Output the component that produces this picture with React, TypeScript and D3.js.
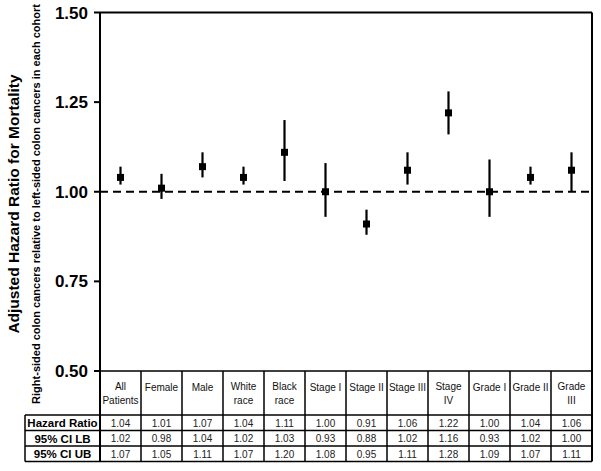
import React from 'react';
import * as d3 from 'd3';

// cohort labels (header row of the table)
const cohorts = ['All Patients', 'Female', 'Male', 'White race', 'Black race', 'Stage I', 'Stage II', 'Stage III', 'Stage IV', 'Grade I', 'Grade II', 'Grade III'];
const headerLines = [['All', 'Patients'], ['Female'], ['Male'], ['White', 'race'], ['Black', 'race'], ['Stage I'], ['Stage II'], ['Stage III'], ['Stage', 'IV'], ['Grade I'], ['Grade II'], ['Grade', 'III']];
const hazardRatio = [1.04, 1.01, 1.07, 1.04, 1.11, 1.0, 0.91, 1.06, 1.22, 1.0, 1.04, 1.06];
const ciLow = [1.02, 0.98, 1.04, 1.02, 1.03, 0.93, 0.88, 1.02, 1.16, 0.93, 1.02, 1.0];
const ciHigh = [1.07, 1.05, 1.11, 1.07, 1.2, 1.08, 0.95, 1.11, 1.28, 1.09, 1.07, 1.11];
const rowLabels = ['Hazard Ratio', '95% CI LB', '95% CI UB'];
const yTicks = [0.5, 0.75, 1.0, 1.25, 1.5];

const font = 'Arial, "Liberation Sans", sans-serif';

const App = () => {
  const left = 100, right = 592, top = 12.5, bottom = 371;
  const rowLines = [415, 430.5, 446, 461.5];
  const tableLeft = 25;

  const x = d3.scaleBand<string>().domain(cohorts).range([left, right]);
  const y = d3.scaleLinear().domain([0.5, 1.5]).range([bottom, top]);
  const rows = [hazardRatio, ciLow, ciHigh];
  const bw = x.bandwidth();

  return (
    <svg width={601} height={471} style={{ position: 'absolute', left: 0, top: 0, background: '#fff' }} fontFamily={font}>
      {/* axis titles */}
      <text transform="translate(19,204) rotate(-90)" textAnchor="middle" fontSize={15.5} fontWeight="bold">
        Adjusted Hazard Ratio for Mortality
      </text>
      <text transform="translate(40,204) rotate(-90)" textAnchor="middle" fontSize={11} fontWeight="bold">
        Right-sided colon cancers relative to left-sided colon cancers in each cohort
      </text>

      {/* y ticks */}
      {yTicks.map(t => (
        <g key={t}>
          <line x1={left - 6} x2={left} y1={y(t)} y2={y(t)} stroke="#000" strokeWidth={2} />
          <text x={88} y={y(t) + 6} textAnchor="end" fontSize={17} fontWeight="bold">{t.toFixed(2)}</text>
        </g>
      ))}

      {/* reference line at 1 */}
      <line x1={left} x2={right} y1={y(1)} y2={y(1)} stroke="#000" strokeWidth={2} strokeDasharray="8,5" />

      {/* error bars and markers */}
      {cohorts.map((c, i) => {
        const cx = (x(c) as number) + bw / 2;
        return (
          <g key={c}>
            <line x1={cx} x2={cx} y1={y(ciLow[i])} y2={y(ciHigh[i])} stroke="#000" strokeWidth={2.2} />
            <rect x={cx - 3.5} y={y(hazardRatio[i]) - 3.5} width={7} height={7} fill="#000" />
          </g>
        );
      })}

      {/* plot frame */}
      <line x1={left} x2={right} y1={top} y2={top} stroke="#000" strokeWidth={2} />
      <line x1={right} x2={right} y1={top} y2={rowLines[3]} stroke="#000" strokeWidth={2} />
      <line x1={left} x2={left} y1={top} y2={rowLines[3]} stroke="#000" strokeWidth={2} />
      <line x1={left} x2={right} y1={bottom} y2={bottom} stroke="#000" strokeWidth={1.5} />

      {/* table grid */}
      {rowLines.map((ry, i) => (
        <line key={i} x1={tableLeft} x2={right} y1={ry} y2={ry} stroke="#000" strokeWidth={1.5} />
      ))}
      <line x1={tableLeft} x2={tableLeft} y1={rowLines[0]} y2={rowLines[3]} stroke="#000" strokeWidth={1.5} />
      {cohorts.slice(1).map(c => (
        <line key={c} x1={x(c) as number} x2={x(c) as number} y1={bottom} y2={rowLines[3]} stroke="#000" strokeWidth={1.5} />
      ))}

      {/* header labels */}
      {cohorts.map((c, i) => {
        const cx = (x(c) as number) + bw / 2;
        const lines = headerLines[i];
        const y0 = lines.length === 1 ? 391 : 390;
        return (
          <text key={c} x={cx} y={y0} textAnchor="middle" fontSize={10} fill="#111">
            {lines.map((l, j) => (
              <tspan key={j} x={cx} dy={j === 0 ? 0 : 14}>{l}</tspan>
            ))}
          </text>
        );
      })}

      {/* row labels and values */}
      {rows.map((vals, r) => {
        const cy = (rowLines[r] + rowLines[r + 1]) / 2 + 4;
        return (
          <g key={r}>
            <text x={(tableLeft + left) / 2} y={cy + 0.5} textAnchor="middle" fontSize={11.5} fontWeight="bold">{rowLabels[r]}</text>
            {vals.map((v, i) => (
              <text key={i} x={(x(cohorts[i]) as number) + bw / 2} y={cy} textAnchor="middle" fontSize={10} fill="#222">{v.toFixed(2)}</text>
            ))}
          </g>
        );
      })}
    </svg>
  );
};

export default App;
